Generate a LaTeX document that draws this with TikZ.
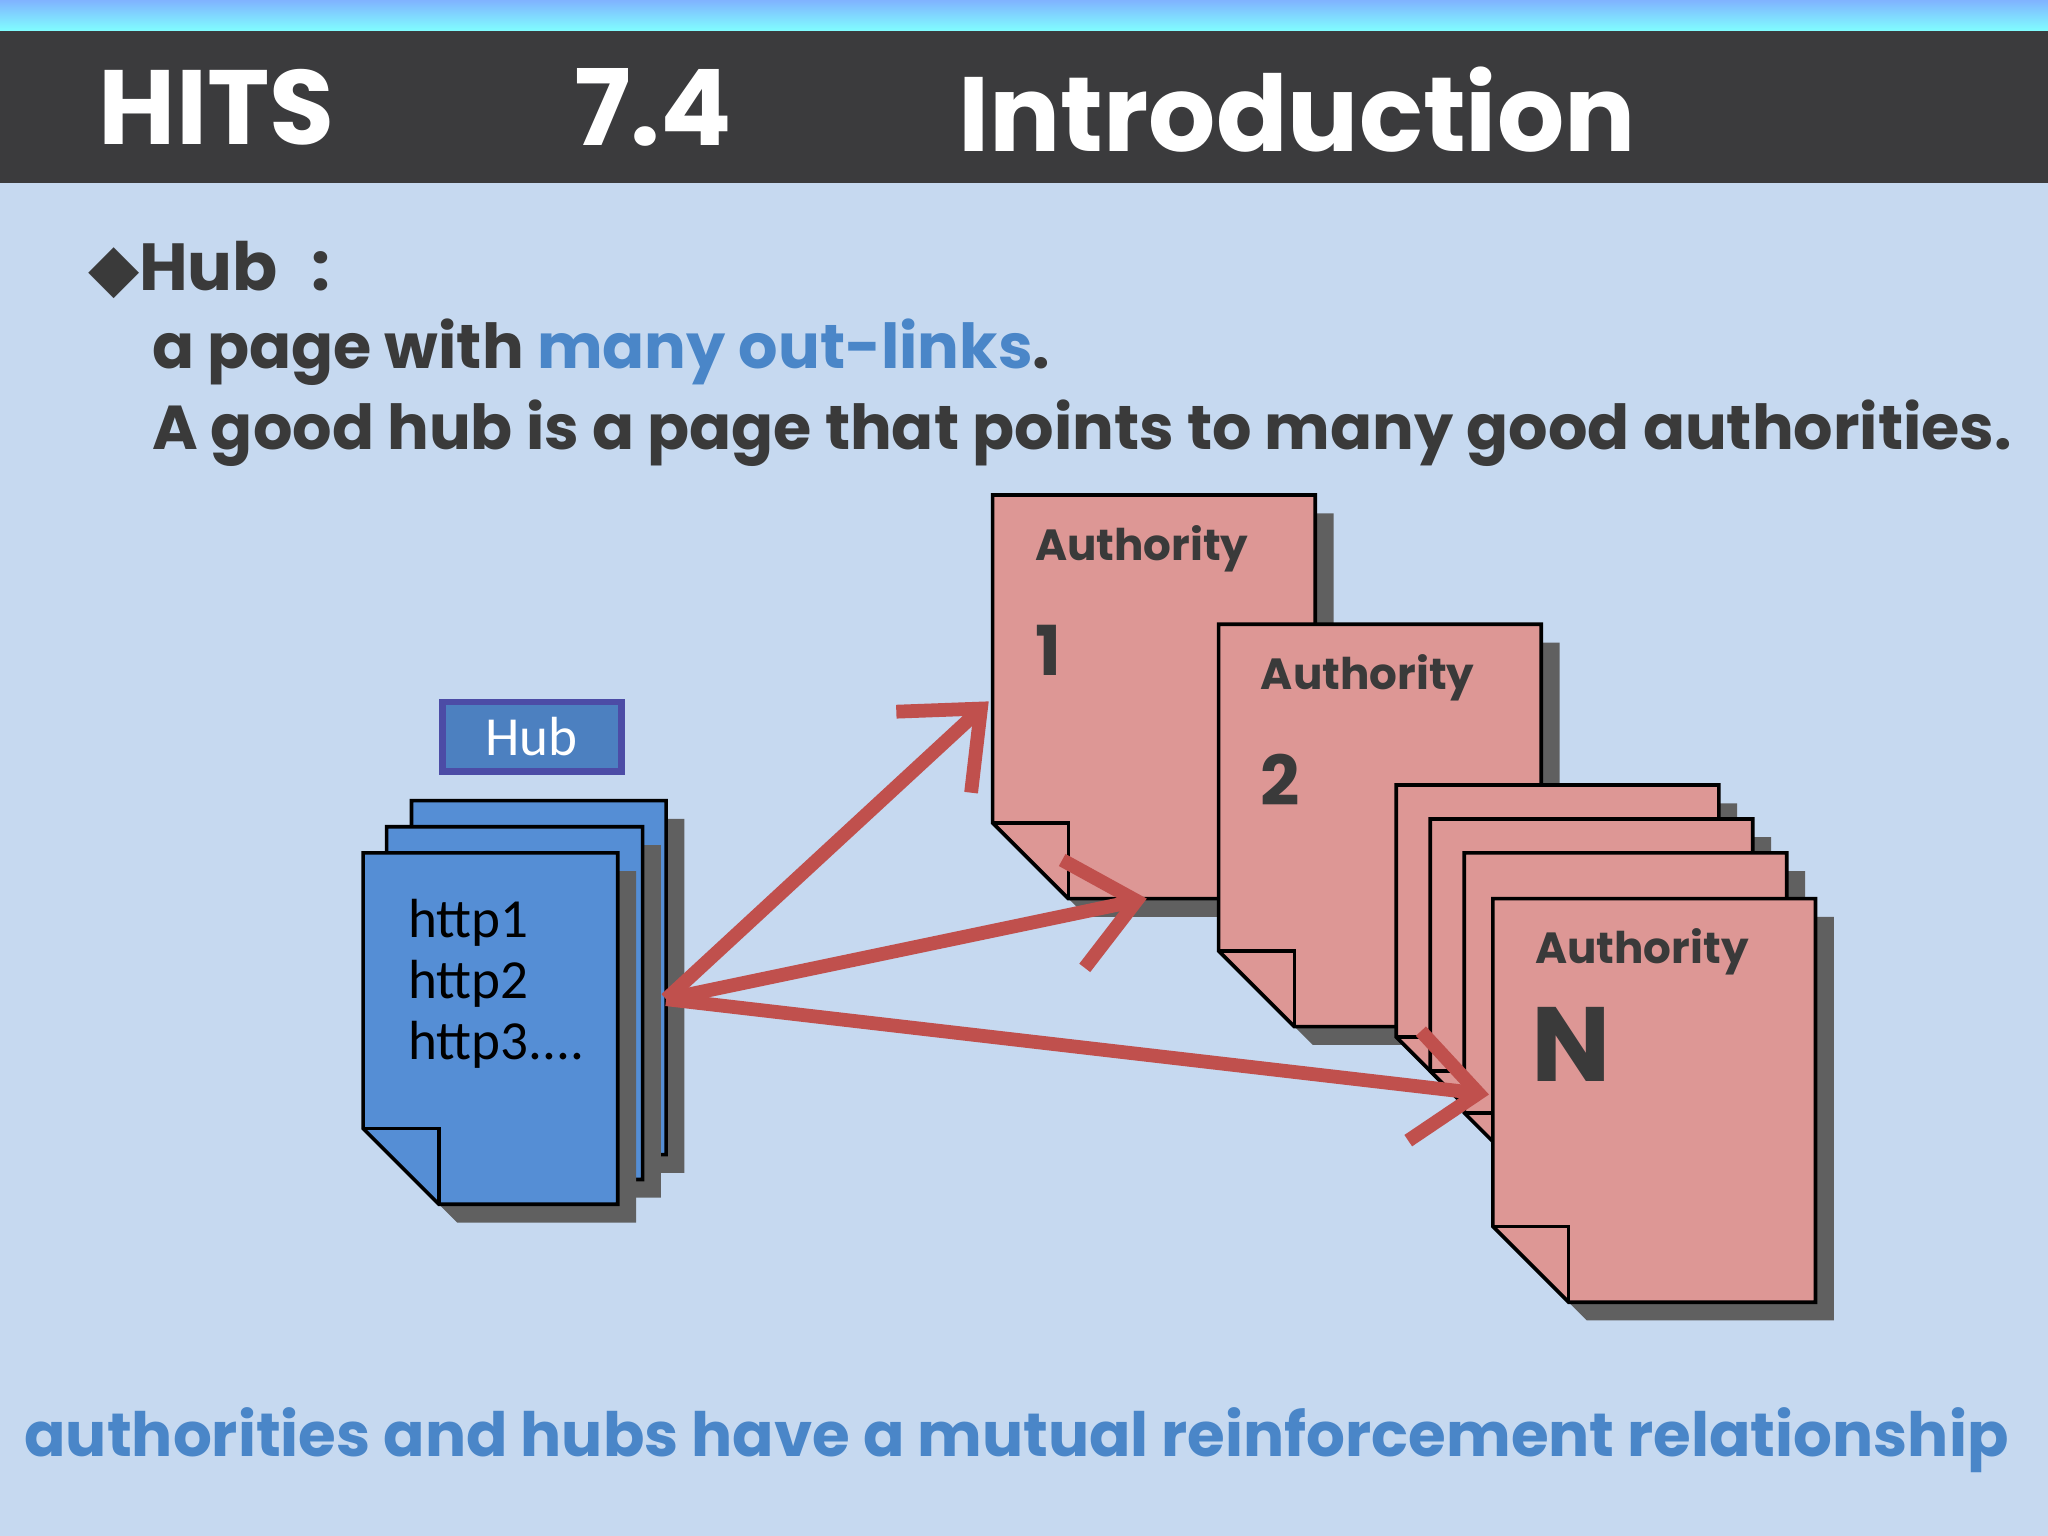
\documentclass[tikz,border=0pt]{standalone}
\usepackage{fontspec}
\setmainfont{Poppins}
\newfontfamily\bodyfont{Carlito}
\usetikzlibrary{arrows.meta}
\definecolor{bg}{HTML}{C6D9F0}
\definecolor{band}{HTML}{3B3B3D}
\definecolor{hubblue}{HTML}{558ED5}
\definecolor{authred}{HTML}{DD9795}
\definecolor{arrred}{HTML}{C0504D}
\definecolor{txtblue}{HTML}{4A86C8}
\definecolor{dark}{HTML}{3A3A3A}
\tikzset{
  hubpage/.style={fill=hubblue,draw=black,line width=0.8pt},
  authpage/.style={fill=authred,draw=black,line width=0.8pt},
  shadowpage/.style={fill=gray!75!black},
  link/.style={draw=arrred,line width=3pt,-{Straight Barb[length=14pt,width=24pt,line width=3pt]}},
  titletxt/.style={text=white,font=\fontsize{23}{26}\selectfont\bfseries,anchor=center},
  authtxt/.style={text=dark,font=\fontsize{9.5}{12}\selectfont\bfseries,anchor=west},
}
\newcommand{\page}[5]{% x1,y1,x2,y2,style
  \fill[shadowpage] (#1+14,#2+14) -- (#3+14,#2+14) -- (#3+14,#4+14) -- (#1+14+58,#4+14) -- (#1+14,#4+14-58) -- cycle;
  \draw[#5] (#1,#2) -- (#3,#2) -- (#3,#4) -- (#1+58,#4) -- (#1,#4-58) -- cycle;
  \draw[#5,fill=none] (#1,#4-58) -- (#1+58,#4-58) -- (#1+58,#4);
}
\begin{document}
\begin{tikzpicture}[x=0.01cm,y=-0.01cm]
\useasboundingbox (0,0) rectangle (1568,1176);
\fill[bg] (0,0) rectangle (1568,1176);
\fill[top color=cyan!40!blue!50,bottom color=cyan!50] (0,0) rectangle (1568,24);
\fill[band] (0,24) rectangle (1568,140);
\node[titletxt] (t1) at (166,82) {HITS};
\node[titletxt] (t2) at (500,82) {7.4};
\node[titletxt] (t3) at (993,84) {Introduction};
\node[anchor=west,text=dark,font=\fontsize{14.5}{18}\selectfont\bfseries] (h) at (55,207) {\fontspec{DejaVu Sans}◆\fontspec{Poppins}Hub\enspace :};
\node[anchor=west,text=dark,font=\fontsize{13.5}{16}\selectfont\bfseries] (l1) at (104,270) {a page with \textcolor{txtblue}{many out-links}.};
\node[anchor=west,text=dark,font=\fontsize{13.5}{16}\selectfont\bfseries] (l2) at (104,332) {A good hub is a page that points to many good authorities.};
% hub stack
\page{315}{613}{510}{884}{hubpage}
\page{296}{633}{492}{903}{hubpage}
\page{278}{653}{473}{922}{hubpage}
\node[anchor=north west,align=left,text=black,font=\bodyfont\fontsize{12}{13.3}\selectfont,inner sep=0pt] (urls) at (312,688) {http1\\http2\\http3....};
\node[draw=blue!50!black!70,line width=1.5pt,fill=hubblue!90!black,text=white,font=\bodyfont\fontsize{12}{14}\selectfont,minimum width=1.37cm,minimum height=0.5cm] (hub) at (407,564) {Hub};
% authorities
\page{760}{379}{1007}{688}{authpage}
\node[authtxt] (a1) at (780,420) {Authority};
\node[authtxt,font=\fontsize{15}{18}\selectfont\bfseries] (n1) at (780,498) {1};
\page{933}{478}{1180}{786}{authpage}
\node[authtxt] (a2) at (953,519) {Authority};
\node[authtxt,font=\fontsize{15}{18}\selectfont\bfseries] (n2) at (953,597) {2};
\page{1069}{601}{1316}{852}{authpage}
\page{1095}{627}{1342}{878}{authpage}
\page{1121}{653}{1368}{910}{authpage}
\page{1143}{688}{1390}{997}{authpage}
\node[authtxt] (a3) at (1163,729) {Authority};
\node[authtxt,font=\fontsize{23}{28}\selectfont\bfseries] (n3) at (1160,800) {N};
% arrows
\coordinate (src) at (510,765);
\coordinate (d1) at (757,537);
\coordinate (d2) at (878,688);
\coordinate (d3) at (1140,838);
\draw[link] (src) -- (d1);
\draw[link] (src) -- (d2);
\draw[link] (src) -- (d3);
\node[anchor=west,text=txtblue,font=\fontsize{13.3}{17}\selectfont\bfseries,inner sep=0pt] (bot) at (18,1103) {authorities and hubs have a mutual reinforcement relationship};
\end{tikzpicture}
\end{document}
